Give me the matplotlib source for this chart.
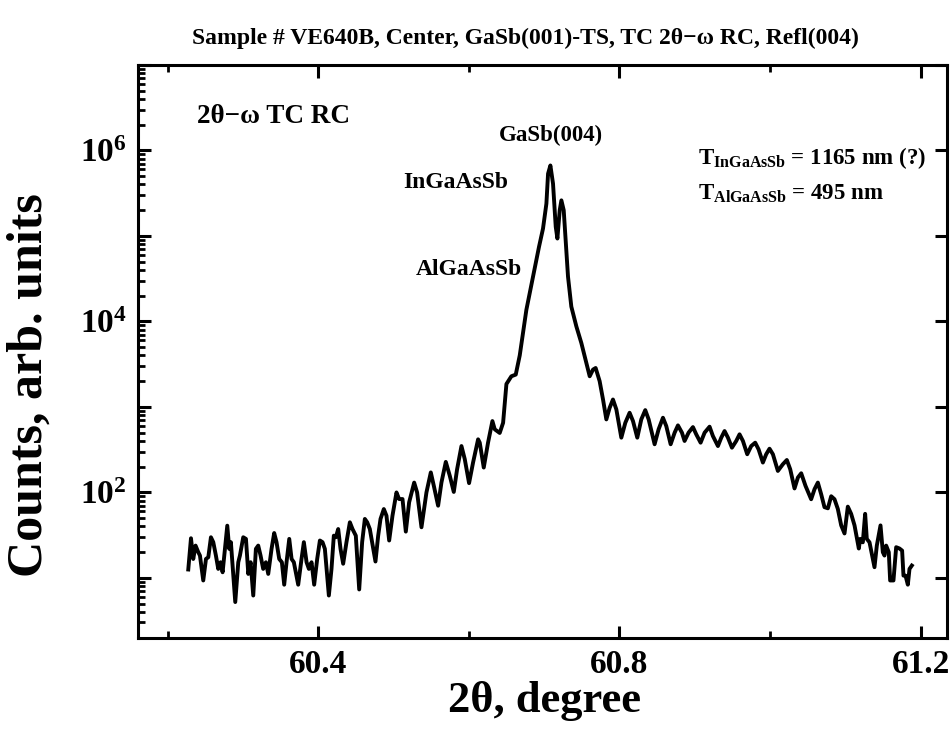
import numpy as np
import matplotlib
matplotlib.use('Agg')
import matplotlib.pyplot as plt
from matplotlib.ticker import (LogLocator, FuncFormatter, MultipleLocator,
                               NullFormatter, FormatStrFormatter)

# 2theta-omega rocking curve
two_theta = [
    60.2274, 60.2310, 60.2340, 60.2371, 60.2407, 60.2429, 60.2473, 60.2509,
    60.2540, 60.2575, 60.2606, 60.2641, 60.2672, 60.2703, 60.2730, 60.2761,
    60.2792, 60.2818, 60.2840, 60.2898, 60.2938, 60.2960, 60.3004, 60.3040,
    60.3071, 60.3102, 60.3137, 60.3172, 60.3203, 60.3234, 60.3269, 60.3305,
    60.3336, 60.3380, 60.3415, 60.3446, 60.3482, 60.3517, 60.3548, 60.3579,
    60.3615, 60.3646, 60.3676, 60.3734, 60.3778, 60.3809, 60.3845, 60.3876,
    60.3911, 60.3946, 60.3986, 60.4022, 60.4057, 60.4088, 60.4141, 60.4176,
    60.4207, 60.4234, 60.4265, 60.4296, 60.4331, 60.4375, 60.4420, 60.4455,
    60.4499, 60.4544, 60.4583, 60.4619, 60.4650, 60.4685, 60.4760, 60.4796,
    60.4827, 60.4871, 60.4906, 60.4942, 60.4986, 60.5039, 60.5074, 60.5119,
    60.5163, 60.5207, 60.5274, 60.5313, 60.5371, 60.5437, 60.5495, 60.5535,
    60.5592, 60.5636, 60.5694, 60.5747, 60.5800, 60.5844, 60.5902, 60.5946,
    60.6003, 60.6056, 60.6123, 60.6145, 60.6198, 60.6255, 60.6313, 60.6344,
    60.6410, 60.6455, 60.6499, 60.6565, 60.6623, 60.6676, 60.6764, 60.6853,
    60.6932, 60.6985, 60.7030, 60.7052, 60.7083, 60.7118, 60.7154, 60.7176,
    60.7207, 60.7229, 60.7260, 60.7286, 60.7317, 60.7361, 60.7428, 60.7494,
    60.7561, 60.7605, 60.7649, 60.7684, 60.7737, 60.7782, 60.7826, 60.7870,
    60.7914, 60.7959, 60.8025, 60.8078, 60.8135, 60.8180, 60.8237, 60.8290,
    60.8343, 60.8388, 60.8467, 60.8520, 60.8578, 60.8622, 60.8680, 60.8733,
    60.8777, 60.8830, 60.8865, 60.8918, 60.8976, 60.9020, 60.9078, 60.9131,
    60.9197, 60.9241, 60.9308, 60.9352, 60.9396, 60.9441, 60.9494, 60.9551,
    60.9595, 60.9640, 60.9697, 60.9750, 60.9803, 60.9848, 60.9905, 60.9949,
    60.9993, 61.0038, 61.0104, 61.0170, 61.0223, 61.0268, 61.0325, 61.0370,
    61.0414, 61.0471, 61.0546, 61.0591, 61.0635, 61.0679, 61.0723, 61.0768,
    61.0812, 61.0856, 61.0900, 61.0945, 61.0989, 61.1033, 61.1077, 61.1122,
    61.1179, 61.1197, 61.1232, 61.1263, 61.1285, 61.1321, 61.1387, 61.1418,
    61.1467, 61.1498, 61.1520, 61.1542, 61.1577, 61.1595, 61.1639, 61.1675,
    61.1719, 61.1754, 61.1772, 61.1799, 61.1830, 61.1852, 61.1883,
]
counts = [
    12.5, 29, 16.6, 23.8, 19.9, 18.2, 9.3, 16.6,
    17.4, 29.8, 26.1, 18.2, 12.7, 15.2, 11.6, 21.8,
    40.7, 21.8, 26.1, 5.2, 15.2, 18.2, 29.8, 28.5,
    11.1, 15.2, 6.2, 21.8, 23.8, 18.2, 12.7, 15.2,
    11.1, 21.8, 33.4, 26.1, 16.6, 15.2, 8.3, 15.2,
    28.5, 16.6, 15.2, 8.3, 16.6, 26.1, 15.2, 12.7,
    15.2, 8.3, 16.6, 27.3, 26.1, 21.8, 6.2, 12.7,
    31.1, 29.8, 37.2, 21.8, 14.6, 26.1, 44.6, 37.2,
    31.1, 7.3, 26.1, 48.8, 44.6, 37.2, 15.5, 31.1,
    48.8, 63.7, 53.3, 27.3, 53.3, 99.7, 83.4, 83.4,
    34.7, 76.3, 130, 99.7, 39, 99.7, 171, 119,
    69.7, 130, 227, 156, 101, 186, 348, 244,
    128, 223, 417, 381, 195, 381, 682, 546,
    495, 651, 1850, 2280, 2385, 4000, 13650, 33400,
    74700, 122000, 239000, 535000, 668000, 409000, 128000, 93300,
    200000, 261000, 200000, 89300, 33400, 14900, 8730, 5590,
    3265, 2280, 2730, 2850, 2000, 1219, 713, 975,
    1219, 933, 436, 651, 853, 682, 436, 713,
    916, 713, 365, 546, 746, 596, 365, 499,
    607, 499, 399, 499, 580, 477, 381, 499,
    586, 456, 348, 436, 521, 436, 333, 399,
    477, 399, 279, 348, 381, 318, 223, 279,
    324, 279, 178, 213, 239, 186, 111, 149,
    167, 119, 83, 109, 130, 95, 67, 65,
    90, 83, 64, 41, 33, 68, 56, 41,
    22, 28.5, 26, 56, 28.5, 26, 13.3, 23.8,
    41, 19.9, 18.2, 23.8, 19.9, 9.3, 9.3, 22.8,
    22, 20.8, 10.6, 10.6, 8.3, 12.7, 13.9,
]

plt.rcParams['font.family'] = ['Liberation Serif', 'DejaVu Serif']
plt.rcParams['font.weight'] = 'bold'
plt.rcParams['mathtext.fontset'] = 'custom'
plt.rcParams['mathtext.rm'] = 'Liberation Serif:bold'
plt.rcParams['mathtext.it'] = 'Liberation Serif:italic:bold'
plt.rcParams['mathtext.bf'] = 'Liberation Serif:bold'

fig = plt.figure(figsize=(9.53, 7.29), dpi=100)
ax = fig.add_axes([0.1443, 0.1255, 0.8494, 0.7853])

ax.plot(two_theta, counts, 'k-', lw=2.8, solid_joinstyle='round')
ax.set_yscale('log')
ax.set_xlim(60.16, 61.235)
ax.set_ylim(2, 1e7)

ax.xaxis.set_major_locator(MultipleLocator(0.4))
ax.xaxis.set_minor_locator(MultipleLocator(0.2))
ax.xaxis.set_major_formatter(FormatStrFormatter('%.1f'))
ax.yaxis.set_major_locator(LogLocator(base=10, numticks=20))
ax.yaxis.set_minor_locator(LogLocator(base=10, subs=np.arange(2, 10), numticks=20))


def ylab(v, pos):
    e = int(round(np.log10(v)))
    if e in (2, 4, 6):
        return r'$\mathdefault{10^{%d}}$' % e
    return ''


ax.yaxis.set_major_formatter(FuncFormatter(ylab))
ax.yaxis.set_minor_formatter(NullFormatter())

ax.tick_params(which='both', direction='in', top=True, right=True)
ax.tick_params(axis='y', which='minor', right=False)
ax.tick_params(which='major', length=9, width=2.2, labelsize=24, pad=8)
ax.tick_params(which='minor', length=5, width=2)
for s in ax.spines.values():
    s.set_linewidth(2.2)

fig.text(0.551, 0.947, 'Sample # VE640B, Center, GaSb(001)-TS, TC 2\u03b8\u2212\u03c9 RC, Refl(004)',
         ha='center', va='center', fontsize=17)
fig.text(30 / 953, 1 - 385 / 729, 'Counts, arb. units', rotation=90,
         ha='center', va='center', fontsize=36)
fig.text(545 / 953, 1 - 701 / 729, '2\u03b8, degree', ha='center', va='center',
         fontsize=32)

ax.text(0.0735, 0.8987, '2\u03b8\u2212\u03c9 TC RC', transform=ax.transAxes,
        ha='left', va='baseline', fontsize=19.5)
ax.text(0.5108, 0.8672, 'GaSb(004)', transform=ax.transAxes,
        ha='center', va='baseline', fontsize=16.5)
ax.text(0.3934, 0.785, 'InGaAsSb', transform=ax.transAxes,
        ha='center', va='baseline', fontsize=17)
ax.text(0.4095, 0.633, 'AlGaAsSb', transform=ax.transAxes,
        ha='center', va='baseline', fontsize=17)
ax.text(0.6923, 0.8262, r'T$_\mathdefault{InGaAsSb}$ = 1165 nm (?)',
        transform=ax.transAxes, ha='left', va='baseline', fontsize=16.5)
ax.text(0.6923, 0.7642, r'T$_\mathdefault{AlGaAsSb}$ = 495 nm',
        transform=ax.transAxes, ha='left', va='baseline', fontsize=16.5)

fig.savefig('out.png', dpi=100)
